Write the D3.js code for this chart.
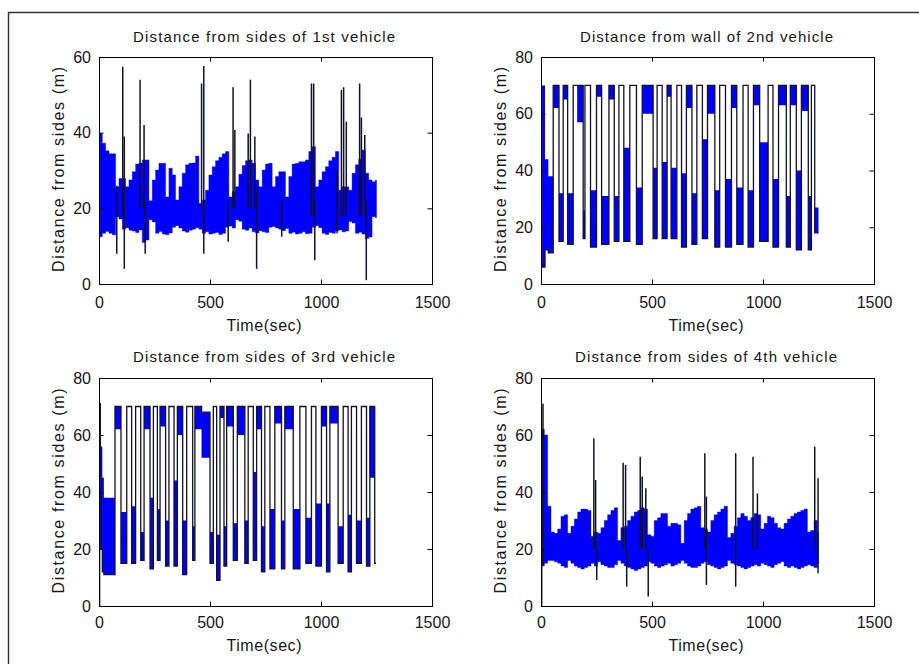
<!DOCTYPE html>
<html><head><meta charset="utf-8">
<script src="https://cdn.jsdelivr.net/npm/d3@7"></script>
<style>html,body{margin:0;padding:0;background:#fff;} svg{display:block;}</style>
</head><body>
<svg id="chart" width="919" height="664"></svg>
<script>
// ---------- text ----------
const titles = ["Distance from sides of 1st vehicle","Distance from wall of 2nd vehicle","Distance from sides of 3rd vehicle","Distance from sides of 4th vehicle"];
const yLabel = "Distance from sides (m)";
const xLabel = "Time(sec)";
const xTicks = [0,500,1000,1500];
const yTicks60 = [0,20,40,60];
const yTicks80 = [0,20,40,60,80];

// ---------- vehicle 1 & 4: dense band (sample time, low / high envelope) + isolated spikes ----------
const bandT = [0,15,30,45,60,75,90,105,120,135,150,165,180,195,210,225,240,255,270,285,300,315,330,345,360,375,390,405,420,435,450,465,480,495,510,525,540,555,570,585,600,615,630,645,660,675,690,705,720,735,750,765,780,795,810,825,840,855,870,885,900,915,930,945,960,975,990,1005,1020,1035,1050,1065,1080,1095,1110,1125,1140,1155,1170,1185,1200,1215,1230,1245];
const hi1 = [39.8,37.2,35.2,34.4,34.4,25.7,27.9,27.9,25.7,27.5,29.7,31.7,32,32.8,32.8,22,27.5,30.1,31.9,31.9,23,30.6,28.8,22.2,25.7,29.3,31.5,31.9,32,33.8,21.3,22.2,24.8,28.8,31,32.6,33.5,34.4,35,23,24.4,25.7,29,31.3,32.6,32.8,31.9,27.5,25.7,30.1,31.7,31.9,25.7,28.4,29.7,29.7,23,28.4,31.7,31.9,32.3,32.3,32.8,35,36.3,25.7,27.5,29.7,31,32.6,33.5,35,24.8,25.7,25.7,24.8,29.3,31.5,33,35.4,29.3,27.5,27,27.5];
const lo1 = [12.5,13.4,13.9,13.4,13.0,17.8,17.2,14.5,14.9,14.2,14,13.6,14.3,11,11.6,17,16.4,13.4,13.9,13.2,13,13.5,15,15.4,14.8,14,13.7,14.2,14.5,14.9,14.5,13.4,13.8,13.2,13.4,13.6,13.1,13.4,15,15.3,14.8,17,16.6,14.5,14.2,14.8,13.8,13.5,14.1,13.8,13.6,15,15.2,14.8,14.5,14.1,14.7,13.4,13.7,13.2,13.4,13.8,13.3,13.4,15,15.4,14.9,13.4,13.1,13.6,13.4,14,14.3,13.8,14,16.5,16.1,13.4,13.7,13.2,12,12.4,17.8,17.5];
const sp1T   = [80,107,114,185,203,208,462,472,582,604,612,672,682,702,710,823,957,967,972,1072,1092,1102,1114,1174,1182,1197,1204];
const sp1Top = [26,57.4,39,54,42,22,53,57.6,22,52,40.7,39.8,54,39,25,22,53,53,22,30,51.3,52,42.9,53,44,39.4,22];
const sp1Bot = [8,18,4,20,20,8,20,8,11.2,20,20,20,20,20,4,12.5,18,18,6.3,13.4,18,18,18,18,18,18,1];

const hi4 = [62,60,35,26,25.5,27,31.5,32,25.5,28,30.5,33,34,34,33.5,24.5,26,25.5,27.5,30,32,33.5,34.5,23,27.5,28,30,31.5,33,33.5,34.5,34,25,24.5,30,31,32.5,32.5,28,29,29,28.5,22,30,32.5,34,34.5,35,27.5,27,26,30,32,33,34,35,24,25.5,28,31,32.5,31.5,30,31,32.5,32,27,29,31.5,31,29,27.5,27,29,30.5,31.5,32.5,33,33.5,34,26,26.5,30,26];
const lo4 = [14,15,16,16,15.5,15,14,13.5,16,15,14,13.5,13,13.5,14,15,14,15.5,14.5,14,13.5,13.5,14.5,16,15,14,13.5,13,12.5,13,13.5,14,15.5,15,14,13.5,14,14.5,15,14,14.5,15,16,15,14,13.5,13.5,14,15,15.5,14.5,14,13.5,13,13.5,14,16,15,14.5,14,13.5,13,13.5,14,14.5,14,15,14.5,14,13.5,14.5,15,15.5,14,13.5,14,13.5,13,13.5,14,14.5,14,13.5,15];
const sp4T   = [3,9,238,246,251,370,381,386,447,456,472,483,738,745,877,955,975,1233,1248];
const sp4Top = [62,71,58.8,44.2,20,50.3,49.5,20,52.4,45.4,41.3,20,53.6,38.4,53.6,52.4,39.5,55.9,44.8];
const sp4Bot = [0,14,20,20,9.1,20,20,6.8,20,20,20,3.3,20,7.4,6.8,20,20,20,11.5];

// ---------- vehicle 2 & 3: switching phases (phase start time, low / high of the phase) ----------
const s2T  = [0,18,33,55,81,100,120,145,163,190,198,223,250,273,306,330,351,373,400,430,456,505,523,546,568,586,612,633,655,680,702,727,750,783,805,831,858,882,910,933,957,985,1023,1045,1070,1105,1123,1150,1173,1204,1218,1233];
const s2Lo = [6,12,11,62,15,65,14,70,57,16,70,13,66,14,65,15,70,15,70,14,60,16,70,16,66,16,70,13,62,14,70,16,60,13,70,13,62,14,70,13,63,15,70,13,63,13,63,12,61,12,70,18];
const s2Hi = [70,44,38,70,32,70,32,70,70,26,70,33,70,31,70,31,70,48,70,34,70,41,70,43,70,41,70,39,70,32,70,51,70,33,70,37,70,34,70,33,70,50,70,37,70,31,70,40,70,31,70,27];
const s2End = 1250;

const s3T  = [0,3,6,15,22,72,99,125,147,165,188,203,230,245,263,275,300,315,338,353,377,395,422,432,462,500,515,530,545,563,575,605,623,657,672,695,710,732,747,770,792,822,837,875,905,932,957,977,1002,1025,1040,1077,1100,1122,1137,1160,1182,1205,1220,1242];
const s3Lo = [0,71,20,12,11,62,15,70,15,70,16,62,13,70,16,63,14,70,14,60,11,70,16,62,52,15,70,9,66,14,63,16,60,15,70,16,62,12,70,13,64,13,62,13,70,15,70,14,63,12,64,15,70,12,70,15,70,14,45,15];
const s3Hi = [0,71,56,45,38,70,33,70,35,70,26,70,38,70,34,70,30,70,44,70,30,70,28,70,68,26,70,25,70,28,70,29,70,30,70,47,70,28,70,34,70,30,70,34,70,31,70,36,70,36,70,28,70,32,70,30,70,31,70,15];
const s3End = 1248;

// ---------- drawing ----------
const FONT = "'Liberation Sans', Arial, Helvetica, sans-serif";
const INK = "#121226";
const BLUE = "#0000ff";
const TXT = "#161616";

const panels = [
  {x0:99,  x1:432, y0:57,  y1:284, ymax:60, yt:yTicks60, title:titles[0], tcx:264, tlen:262, tby:42,  xlby:331, padX:13, kind:"band",  T:bandT, lo:lo1, hi:hi1, end:1250, spT:sp1T, spTop:sp1Top, spBot:sp1Bot},
  {x0:541, x1:874, y0:57,  y1:284, ymax:80, yt:yTicks80, title:titles[1], tcx:706.5, tlen:253, tby:42,  xlby:331, padX:13, kind:"phase", T:s2T, lo:s2Lo, hi:s2Hi, end:s2End},
  {x0:99,  x1:432, y0:378, y1:606, ymax:80, yt:yTicks80, title:titles[2], tcx:264, tlen:262, tby:362, xlby:651, padX:10.5, kind:"phase", T:s3T, lo:s3Lo, hi:s3Hi, end:s3End},
  {x0:541, x1:874, y0:378, y1:606, ymax:80, yt:yTicks80, title:titles[3], tcx:706, tlen:262, tby:362, xlby:651, padX:10.5, kind:"band",  T:bandT, lo:lo4, hi:hi4, end:1250, spT:sp4T, spTop:sp4Top, spBot:sp4Bot}
];

const svg = d3.select("#chart");
svg.append("path").attr("d","M8.5,664V12.5H919").attr("fill","none").attr("stroke","#333").attr("stroke-width",1.4);
const defs = svg.append("defs");

panels.forEach((p,i)=>{
  const x = d3.scaleLinear().domain([0,1500]).range([p.x0,p.x1]);
  const y = d3.scaleLinear().domain([0,p.ymax]).range([p.y1,p.y0]);
  const cid = "clip"+i;
  defs.append("clipPath").attr("id",cid).append("rect")
    .attr("x",p.x0).attr("y",p.y0).attr("width",p.x1-p.x0+1).attr("height",p.y1-p.y0+1);
  const plot = svg.append("g").attr("clip-path",`url(#${cid})`);

  const pts = p.T.map((t,k)=>({t:t, lo:p.lo[k], hi:p.hi[k]}));
  const last = pts[pts.length-1];
  pts.push({t:p.end, lo:last.lo, hi:last.hi});
  const area = d3.area().curve(d3.curveStepAfter).x(d=>x(d.t)).y0(d=>y(d.lo)).y1(d=>y(d.hi));

  if (p.kind === "band") {
    plot.append("path").datum(pts).attr("d",area).attr("fill",BLUE)
      .attr("stroke","#0000c0").attr("stroke-width",0.4);
    const sp = p.spT.map((t,k)=>({t:t, top:p.spTop[k], bot:p.spBot[k]}));
    plot.selectAll("line.sp").data(sp).join("line").attr("class","sp")
      .attr("x1",d=>x(d.t)).attr("x2",d=>x(d.t))
      .attr("y1",d=>y(d.top)).attr("y2",d=>y(d.bot))
      .attr("stroke",INK).attr("stroke-width",1.5);
  } else {
    const line = d3.line().curve(d3.curveStepAfter).x(d=>x(d.t)).y(d=>y(d.lo>=40?d.hi:d.lo));
    plot.append("path").datum(pts).attr("d",area).attr("fill",BLUE);
    plot.append("path").datum(pts).attr("d",line).attr("fill","none").attr("stroke",INK).attr("stroke-width",1.3);
  }

  // axes
  const styleAxis = g => {
    g.attr("font-family",FONT).attr("font-size",16);
    g.select(".domain").remove();
    g.selectAll(".tick line").attr("stroke","#000");
    g.selectAll(".tick text").attr("fill",TXT);
  };
  svg.append("g").attr("transform",`translate(0,${p.y1})`)
    .call(d3.axisBottom(x).tickValues(xTicks).tickSize(-4.5).tickPadding(p.padX).tickFormat(d3.format("d"))).call(styleAxis);
  svg.append("g").attr("transform",`translate(0,${p.y0})`)
    .call(d3.axisTop(x).tickValues(xTicks).tickSize(-4.5).tickFormat("")).call(styleAxis);
  svg.append("g").attr("transform",`translate(${p.x0},0)`)
    .call(d3.axisLeft(y).tickValues(p.yt).tickSize(-4.5).tickPadding(8).tickFormat(d3.format("d"))).call(styleAxis);
  svg.append("g").attr("transform",`translate(${p.x1},0)`)
    .call(d3.axisRight(y).tickValues(p.yt).tickSize(-4.5).tickFormat("")).call(styleAxis);

  svg.append("rect").attr("x",p.x0+0.5).attr("y",p.y0+0.5).attr("width",p.x1-p.x0).attr("height",p.y1-p.y0)
    .attr("fill","none").attr("stroke","#000").attr("stroke-width",1);

  // labels
  svg.append("text").attr("x",p.tcx).attr("y",p.tby).attr("text-anchor","middle")
    .attr("font-family",FONT).attr("font-size",15).attr("fill",TXT)
    .attr("textLength",p.tlen).attr("lengthAdjust","spacing").text(p.title);
  svg.append("text").attr("x",(p.x0+p.x1)/2 - 1.5).attr("y",p.xlby).attr("text-anchor","middle")
    .attr("font-family",FONT).attr("font-size",16).attr("fill",TXT)
    .attr("textLength",75).attr("lengthAdjust","spacing").text(xLabel);
  const ylx = p.x0 - 35, yly = (p.y0+p.y1)/2 - 1;
  svg.append("text").attr("transform",`translate(${ylx},${yly}) rotate(-90)`).attr("text-anchor","middle")
    .attr("font-family",FONT).attr("font-size",16).attr("fill",TXT)
    .attr("textLength",205).attr("lengthAdjust","spacing").text(yLabel);
});
</script>
</body></html>
